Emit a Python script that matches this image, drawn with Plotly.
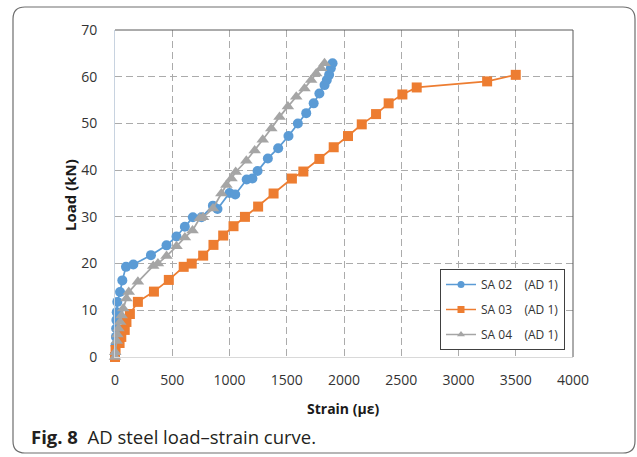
import plotly.graph_objects as go

# ---------------- data ----------------
sa02_strain = [0, 5, 8, 10, 12, 15, 20, 44, 64, 96, 160, 314, 450, 537, 610, 680, 755,
               855, 895, 1000, 1050, 1150, 1200, 1245, 1335, 1425, 1515, 1597, 1670,
               1735, 1785, 1830, 1850, 1870, 1885, 1900]
sa02_load = [0, 2.5, 4.3, 6.1, 7.9, 9.6, 11.8, 13.9, 16.4, 19.3, 19.8, 21.8, 23.9, 25.8,
             27.9, 29.9, 29.9, 32.4, 31.7, 35.1, 34.8, 38.0, 38.2, 39.8, 42.5, 44.7, 47.3,
             50.0, 52.2, 54.3, 56.4, 58.2, 59.3, 60.4, 61.8, 62.9]

sa03_strain = [0, 5, 40, 55, 85, 100, 130, 200, 340, 470, 600, 670, 770, 860, 945, 1035,
               1135, 1250, 1385, 1545, 1645, 1785, 1910, 2035, 2155, 2280, 2390, 2510,
               2635, 3250, 3500]
sa03_load = [0, 1.5, 3.0, 4.3, 5.8, 7.5, 9.2, 11.8, 14.0, 16.5, 19.3, 20.0, 21.7, 24.0,
             26.0, 28.0, 30.0, 32.2, 35.0, 38.2, 39.7, 42.4, 44.9, 47.3, 49.8, 52.0, 54.3,
             56.2, 57.7, 59.0, 60.4]

sa04_strain = [0, 2, 15, 20, 30, 45, 58, 72, 100, 120, 200, 334, 375, 450, 537, 610, 677,
               740, 769, 856, 929, 973, 1017, 1054, 1147, 1220, 1290, 1365, 1437, 1510,
               1583, 1655, 1713, 1757, 1800, 1830]
sa04_load = [0, 1.0, 3.4, 4.8, 6.1, 7.5, 8.9, 10.4, 12.5, 13.9, 16.1, 19.5, 20.0, 21.6,
             23.7, 25.6, 27.1, 29.7, 29.9, 31.8, 35.0, 36.8, 38.2, 39.6, 42.0, 44.2, 46.5,
             48.9, 51.4, 53.6, 55.7, 57.5, 59.3, 60.7, 61.8, 62.9]

series_names = ["SA 02&nbsp;&nbsp;&nbsp;&nbsp;(AD 1)",
                "SA 03&nbsp;&nbsp;&nbsp;&nbsp;(AD 1)",
                "SA 04&nbsp;&nbsp;&nbsp;&nbsp;(AD 1)"]
x_ticks = [0, 500, 1000, 1500, 2000, 2500, 3000, 3500, 4000]
y_ticks = [0, 10, 20, 30, 40, 50, 60, 70]

caption = "<b>Fig. 8</b>&nbsp;&nbsp;AD steel load–strain curve."
x_title = "<b>Strain (με)</b>"
y_title = "<b>Load (kN)</b>"

# ---------------- figure ----------------
W, H = 637, 457
L, R, T, B = 115, 64, 30, 100
pw, ph = W - L - R, H - T - B


def px_x(p):
    return (p - L) / pw


def px_y(p):
    return (H - B - p) / ph


fig = go.Figure()
styles = [
    dict(color="#5B9BD5", symbol="circle", size=10),
    dict(color="#ED7D31", symbol="square", size=10),
    dict(color="#A5A5A5", symbol="triangle-up", size=11),
]
for i, (xs, ys) in enumerate([(sa02_strain, sa02_load), (sa03_strain, sa03_load),
                              (sa04_strain, sa04_load)]):
    st = styles[i]
    fig.add_trace(go.Scatter(
        x=xs, y=ys, mode="lines+markers", name=series_names[i],
        showlegend=False,
        line=dict(color=st["color"], width=1.75),
        marker=dict(color=st["color"], symbol=st["symbol"], size=st["size"]),
        cliponaxis=False,
    ))
# legend entries (smaller symbols, as in the reference)
for i in range(3):
    st = styles[i]
    fig.add_trace(go.Scatter(
        x=[None], y=[None], mode="lines+markers", name=series_names[i],
        legendgroup=f"g{i}",
        line=dict(color=st["color"], width=1.5),
        marker=dict(color=st["color"], symbol=st["symbol"], size=7),
    ))

font = "Open Sans, DejaVu Sans, sans-serif"
fig.update_layout(
    width=W, height=H,
    margin=dict(l=L, r=R, t=T, b=B, pad=0),
    paper_bgcolor="white", plot_bgcolor="white",
    font=dict(family=font, color="#333333", size=14),
    legend=dict(
        x=px_x(440), y=px_y(269), xanchor="left", yanchor="top",
        bgcolor="white", bordercolor="#404040", borderwidth=1,
        font=dict(size=12, color="#333333"),
        tracegroupgap=6, itemsizing="trace", itemwidth=30,
    ),
    xaxis=dict(
        range=[0, 4000], tickvals=x_ticks, showgrid=True,
        gridcolor="#ABABAB", griddash="7px,4px", gridwidth=1,
        showline=True, linecolor="#D9D9D9", linewidth=1,
        zeroline=False, ticks="", ticklabelstandoff=10,
        tickfont=dict(size=14, color="#333333"),
    ),
    yaxis=dict(
        range=[0, 70], tickvals=y_ticks, showgrid=True,
        gridcolor="#ABABAB", griddash="7px,4px", gridwidth=1,
        showline=True, linecolor="#C8D3E0", linewidth=1,
        zeroline=False, ticks="", ticklabelstandoff=14,
        tickfont=dict(size=14, color="#333333"),
    ),
    showlegend=True,
)

# plot-area top/right border (dark)
fig.add_shape(type="line", xref="paper", yref="paper", x0=0, x1=1, y0=1, y1=1,
              line=dict(color="#595959", width=1))
fig.add_shape(type="line", xref="paper", yref="paper", x0=1, x1=1, y0=0, y1=1,
              line=dict(color="#595959", width=1))

# outer rounded frame
x0, x1 = px_x(13), px_x(635)
y0, y1 = px_y(453), px_y(7)
rx, ry = 12 / pw, 12 / ph
path = (f"M {x0+rx},{y1} L {x1-rx},{y1} Q {x1},{y1} {x1},{y1-ry} "
        f"L {x1},{y0+ry} Q {x1},{y0} {x1-rx},{y0} L {x0+rx},{y0} "
        f"Q {x0},{y0} {x0},{y0+ry} L {x0},{y1-ry} Q {x0},{y1} {x0+rx},{y1} Z")
fig.add_shape(type="path", path=path, xref="paper", yref="paper",
              line=dict(color="#6E6E6E", width=1.2), layer="below")

# axis titles
fig.add_annotation(text=x_title, xref="paper", yref="paper", x=px_x(343), y=px_y(408),
                   showarrow=False, xanchor="center", yanchor="middle",
                   font=dict(size=14, color="#1a1a1a", family=font))
fig.add_annotation(text=y_title, xref="paper", yref="paper", x=px_x(70), y=px_y(195),
                   showarrow=False, xanchor="center", yanchor="middle", textangle=-90,
                   font=dict(size=15, color="#1a1a1a", family=font))

# caption
fig.add_annotation(text=caption, xref="paper", yref="paper", x=px_x(29), y=px_y(436),
                   showarrow=False, xanchor="left", yanchor="middle",
                   font=dict(size=18.5, color="#231F20", family=font))

fig.write_html("out.html")
